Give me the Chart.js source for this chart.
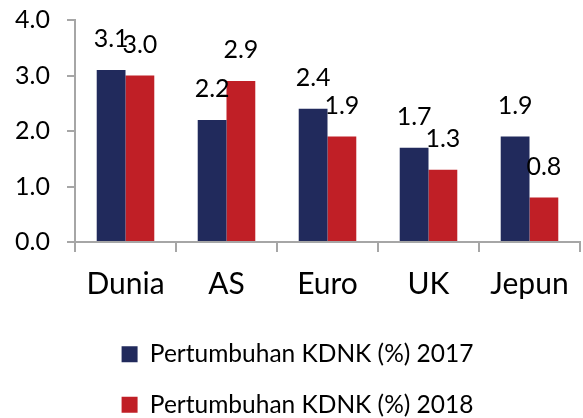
<!DOCTYPE html>
<html>
<head>
<meta charset="utf-8">
<script src="https://cdn.jsdelivr.net/npm/chart.js@4/dist/chart.umd.min.js"></script>
<style>
  html, body { margin: 0; padding: 0; background: #fff; }
  #wrap { width: 583px; height: 418px; }
</style>
</head>
<body>
<div id="wrap"><canvas id="chart"></canvas></div>
<script>
// data
const categories = ['Dunia', 'AS', 'Euro', 'UK', 'Jepun'];
const gdp2017 = [3.1, 2.2, 2.4, 1.7, 1.9];
const gdp2018 = [3.0, 2.9, 1.9, 1.3, 0.8];
const seriesNames = ['Pertumbuhan KDNK (%) 2017', 'Pertumbuhan KDNK (%) 2018'];

const FONT = 'Lato, "Open Sans", sans-serif';
const AXIS = '#a6a6a6';

// value labels above each bar
const barLabels = {
    id: 'barLabels',
    afterDatasetsDraw(chart) {
        const ctx = chart.ctx;
        ctx.save();
        ctx.font = '25px ' + FONT;
        ctx.fillStyle = '#000';
        ctx.textAlign = 'center';
        ctx.textBaseline = 'middle';
        chart.data.datasets.forEach((ds, i) => {
            chart.getDatasetMeta(i).data.forEach((bar, j) => {
                ctx.fillText(ds.data[j].toFixed(1), bar.x, bar.y - 31);
            });
        });
        ctx.restore();
    }
};

new Chart(document.getElementById('chart'), {
    type: 'bar',
    data: {
        labels: categories,
        datasets: [
            { label: seriesNames[0], data: gdp2017, backgroundColor: '#212a5c' },
            { label: seriesNames[1], data: gdp2018, backgroundColor: '#c01f26' }
        ]
    },
    options: {
        responsive: true,
        maintainAspectRatio: false,
        animation: false,
        layout: { padding: { top: 0, right: 3, left: 15, bottom: -9 } },
        datasets: { bar: { categoryPercentage: 0.57, barPercentage: 1 } },
        scales: {
            x: {
                grid: { drawOnChartArea: false, color: AXIS, lineWidth: 2, tickLength: 10 },
                border: { color: AXIS, width: 2 },
                ticks: { color: '#000', font: { family: FONT, size: 30 }, padding: 14 }
            },
            y: {
                min: 0, max: 4,
                grid: { drawOnChartArea: false, color: AXIS, lineWidth: 2, tickLength: 8 },
                border: { color: AXIS, width: 2 },
                ticks: {
                    stepSize: 1, color: '#000', padding: 5, crossAlign: 'far',
                    font: { family: FONT, size: 25 },
                    callback: v => v.toFixed(1)
                },
                // axis line sits at x=75 like the original
                afterFit(scale) { scale.width = 60; }
            }
        },
        plugins: {
            tooltip: { enabled: false },
            legend: {
                position: 'bottom',
                labels: {
                    color: '#000',
                    font: { family: FONT, size: 24.5 },
                    boxWidth: 16, boxHeight: 16,
                    padding: 26
                }
            }
        }
    },
    plugins: [barLabels]
});
</script>
</body>
</html>
